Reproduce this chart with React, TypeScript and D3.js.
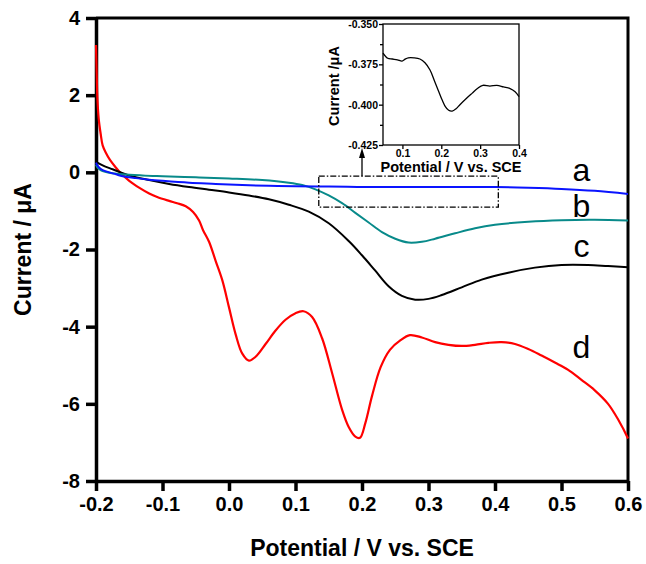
import React, { useRef, useEffect } from 'react';
import * as d3 from 'd3';

// curve a (blue)
const potA = [-0.2, -0.198, -0.195, -0.19, -0.18, -0.17, -0.16, -0.14, -0.12, -0.1, -0.06, -0.02, 0.02, 0.06, 0.1, 0.15, 0.2, 0.25, 0.3, 0.35, 0.4, 0.45, 0.5, 0.55, 0.6];
const curA = [0.25, 0.18, 0.12, 0.06, 0.0, -0.05, -0.1, -0.15, -0.19, -0.22, -0.27, -0.3, -0.33, -0.35, -0.36, -0.37, -0.38, -0.38, -0.38, -0.38, -0.38, -0.4, -0.43, -0.48, -0.56];

// curve b (teal)
const potB = [-0.2, -0.198, -0.195, -0.19, -0.18, -0.16, -0.13, -0.1, -0.05, 0.0, 0.05, 0.09, 0.11, 0.13, 0.15, 0.17, 0.19, 0.21, 0.23, 0.25, 0.27, 0.29, 0.31, 0.34, 0.37, 0.4, 0.45, 0.5, 0.55, 0.6];
const curB = [0.2, 0.13, 0.08, 0.03, -0.01, -0.05, -0.08, -0.1, -0.13, -0.16, -0.2, -0.27, -0.33, -0.44, -0.6, -0.8, -1.05, -1.3, -1.55, -1.72, -1.82, -1.8, -1.72, -1.58, -1.45, -1.36, -1.28, -1.24, -1.23, -1.25];

// curve c (black)
const potC = [-0.2, -0.19, -0.175, -0.15, -0.12, -0.09, -0.06, -0.03, 0.0, 0.03, 0.06, 0.09, 0.12, 0.15, 0.18, 0.2, 0.22, 0.24, 0.26, 0.28, 0.3, 0.32, 0.35, 0.38, 0.42, 0.46, 0.5, 0.54, 0.57, 0.6];
const curC = [0.27, 0.18, 0.08, -0.08, -0.2, -0.3, -0.38, -0.45, -0.52, -0.6, -0.7, -0.84, -1.02, -1.32, -1.78, -2.15, -2.55, -2.95, -3.2, -3.3, -3.28, -3.18, -2.98, -2.78, -2.6, -2.47, -2.4, -2.4, -2.43, -2.46];

// curve d (red)
const potD = [-0.2, -0.199, -0.198, -0.196, -0.193, -0.19, -0.185, -0.179, -0.17, -0.164, -0.15, -0.134, -0.12, -0.108, -0.09, -0.078, -0.065, -0.054, -0.045, -0.039, -0.03, -0.02, -0.01, 0.0, 0.01, 0.02, 0.03, 0.04, 0.055, 0.07, 0.085, 0.1, 0.112, 0.125, 0.14, 0.155, 0.17, 0.18, 0.19, 0.197, 0.205, 0.215, 0.228, 0.242, 0.258, 0.272, 0.29, 0.31, 0.33, 0.35, 0.37, 0.39, 0.41, 0.43, 0.45, 0.47, 0.49, 0.51, 0.53, 0.55, 0.57, 0.585, 0.6];
const curD = [3.3, 2.6, 1.95, 1.4, 1.0, 0.7, 0.5, 0.32, 0.12, 0.0, -0.22, -0.41, -0.55, -0.64, -0.74, -0.8, -0.88, -1.03, -1.25, -1.5, -1.8, -2.3, -2.8, -3.5, -4.2, -4.7, -4.88, -4.78, -4.45, -4.1, -3.82, -3.65, -3.6, -3.75, -4.3, -5.2, -6.15, -6.6, -6.85, -6.88, -6.5, -5.8, -5.05, -4.6, -4.35, -4.22, -4.28, -4.4, -4.47, -4.5, -4.47, -4.42, -4.4, -4.45, -4.58, -4.75, -4.93, -5.12, -5.38, -5.65, -6.0, -6.4, -6.9];

// inset (zoom of curve a)
const potInset = [0.05, 0.062, 0.074, 0.087, 0.099, 0.107, 0.115, 0.13, 0.145, 0.158, 0.171, 0.182, 0.192, 0.202, 0.21, 0.219, 0.228, 0.238, 0.248, 0.263, 0.279, 0.293, 0.307, 0.325, 0.343, 0.36, 0.377, 0.39, 0.4];
const curInset = [-0.368, -0.3712, -0.3717, -0.3722, -0.373, -0.3718, -0.371, -0.371, -0.3717, -0.374, -0.3785, -0.385, -0.391, -0.397, -0.401, -0.4035, -0.404, -0.4025, -0.4, -0.3965, -0.393, -0.39, -0.388, -0.3885, -0.388, -0.389, -0.39, -0.392, -0.395];

const xTicks = [-0.2, -0.1, 0.0, 0.1, 0.2, 0.3, 0.4, 0.5, 0.6];
const yTicks = [4, 2, 0, -2, -4, -6, -8];
const insetXTicks = [0.1, 0.2, 0.3, 0.4];
const insetYTicks = [-0.35, -0.375, -0.4, -0.425];
const insetYMinor = [-0.3625, -0.3875, -0.4125];

const curveLabels = ['a', 'b', 'c', 'd'];
const labelCurrents = [-0.22, -1.17, -2.2, -4.8];

const zoomBoxX = [0.135, 0.405];
const zoomBoxY = [-0.1, -0.9];

const FONT = "'Liberation Sans', Arial, Helvetica, sans-serif";

// plain hyphen for negatives, like the original figure
const fmt = (digits: number) => (d: d3.NumberValue) => (+d).toFixed(digits);

const App = () => {
    const svgRef = useRef<SVGSVGElement>(null);

    useEffect(() => {
        const width = 646;
        const height = 564;
        const marginTop = 18;
        const marginRight = 18;
        const marginBottom = 83;
        const marginLeft = 96;

        const svg = d3.select(svgRef.current)
            .attr('width', width)
            .attr('height', height)
            .attr('viewBox', `0 0 ${width} ${height}`)
            .style('font-family', FONT);

        svg.selectAll('*').remove();

        const x = d3.scaleLinear().domain([-0.2, 0.6]).range([marginLeft, width - marginRight]);
        const y = d3.scaleLinear().domain([-8, 4]).range([height - marginBottom, marginTop]);

        // frame top and right
        svg.append('path')
            .attr('d', `M${x(-0.2)},${y(4)}H${x(0.6)}V${y(-8)}`)
            .attr('fill', 'none')
            .attr('stroke', 'black')
            .attr('stroke-width', 3);

        const styleTicks = (g, size) => g.selectAll('.tick text')
            .attr('font-size', size)
            .attr('font-weight', 'bold')
            .attr('font-family', FONT)
            .attr('fill', 'black');

        // x axis
        svg.append('g')
            .attr('transform', `translate(0,${y(-8)})`)
            .call(d3.axisBottom(x).tickValues(xTicks).tickFormat(fmt(1)).tickSize(10).tickSizeOuter(0).tickPadding(6))
            .call(g => g.select('.domain').attr('stroke-width', 3.5))
            .call(g => g.selectAll('.tick line').attr('stroke-width', 3.5))
            .call(g => styleTicks(g, 20));

        // y axis
        svg.append('g')
            .attr('transform', `translate(${marginLeft},0)`)
            .call(d3.axisLeft(y).tickValues(yTicks).tickFormat(fmt(0)).tickSize(10).tickSizeOuter(0).tickPadding(6))
            .call(g => g.select('.domain').attr('stroke-width', 3.5))
            .call(g => g.selectAll('.tick line').attr('stroke-width', 3.5))
            .call(g => styleTicks(g, 20));

        // axis titles
        svg.append('text')
            .attr('x', (x(-0.2) + x(0.6)) / 2)
            .attr('y', 556)
            .attr('text-anchor', 'middle')
            .attr('font-size', 23)
            .attr('font-weight', 'bold')
            .text('Potential / V vs. SCE');

        svg.append('text')
            .attr('transform', `translate(31,${(y(4) + y(-8)) / 2}) rotate(-90)`)
            .attr('text-anchor', 'middle')
            .attr('font-size', 23)
            .attr('font-weight', 'bold')
            .text('Current / \u03BCA');

        const line = d3.line<[number, number]>()
            .x(d => x(d[0]))
            .y(d => y(d[1]))
            .curve(d3.curveCatmullRom.alpha(0.5));

        const series = [
            { pot: potD, cur: curD, color: '#ff0000', w: 2.2 },
            { pot: potC, cur: curC, color: '#000000', w: 2 },
            { pot: potB, cur: curB, color: '#088a8a', w: 2 },
            { pot: potA, cur: curA, color: '#0a14ff', w: 2 },
        ];

        series.forEach(s => {
            svg.append('path')
                .datum(s.pot.map((p, i) => [p, s.cur[i]] as [number, number]))
                .attr('fill', 'none')
                .attr('stroke', s.color)
                .attr('stroke-width', s.w)
                .attr('stroke-linejoin', 'round')
                .attr('d', line);
        });

        // curve letters
        svg.selectAll('text.curve-label')
            .data(curveLabels)
            .join('text')
            .attr('class', 'curve-label')
            .attr('x', x(0.53))
            .attr('y', (d, i) => y(labelCurrents[i]))
            .attr('text-anchor', 'middle')
            .attr('font-size', 32)
            .text(d => d);

        // zoom box
        svg.append('rect')
            .attr('x', x(zoomBoxX[0]))
            .attr('y', y(zoomBoxY[0]))
            .attr('width', x(zoomBoxX[1]) - x(zoomBoxX[0]))
            .attr('height', y(zoomBoxY[1]) - y(zoomBoxY[0]))
            .attr('fill', 'none')
            .attr('stroke', 'black')
            .attr('stroke-width', 1.3)
            .attr('stroke-dasharray', '6,2,1.5,2');

        // arrow to inset
        const ax = x(0.2);
        svg.append('line')
            .attr('x1', ax).attr('x2', ax)
            .attr('y1', y(zoomBoxY[0]))
            .attr('y2', 156)
            .attr('stroke', 'black')
            .attr('stroke-width', 1.3);
        svg.append('path')
            .attr('d', `M${ax},148L${ax - 3},158L${ax + 3},158Z`)
            .attr('fill', 'black');

        // inset
        const ix = d3.scaleLinear().domain([0.05, 0.4]).range([383, 519]);
        const iy = d3.scaleLinear().domain([-0.425, -0.35]).range([145, 24]);

        const inset = svg.append('g');
        inset.append('rect')
            .attr('x', 383).attr('y', 24)
            .attr('width', 136).attr('height', 121)
            .attr('fill', 'white')
            .attr('stroke', 'black')
            .attr('stroke-width', 1.3);

        inset.append('g')
            .attr('transform', 'translate(0,145)')
            .call(d3.axisBottom(ix).tickValues(insetXTicks).tickFormat(fmt(1)).tickSize(4).tickSizeOuter(0).tickPadding(1))
            .call(g => g.select('.domain').remove())
            .call(g => g.selectAll('.tick line').attr('stroke-width', 1.3))
            .call(g => styleTicks(g, 10.5));

        inset.append('g')
            .attr('transform', 'translate(383,0)')
            .call(d3.axisLeft(iy).tickValues(insetYTicks).tickFormat(fmt(3)).tickSize(4).tickSizeOuter(0).tickPadding(1))
            .call(g => g.select('.domain').remove())
            .call(g => g.selectAll('.tick line').attr('stroke-width', 1.3))
            .call(g => styleTicks(g, 10.5));

        inset.append('g')
            .attr('transform', 'translate(383,0)')
            .call(d3.axisLeft(iy).tickValues(insetYMinor).tickFormat(() => '').tickSize(3).tickSizeOuter(0))
            .call(g => g.select('.domain').remove())
            .call(g => g.selectAll('.tick line').attr('stroke-width', 1.3));

        const insetLine = d3.line<[number, number]>()
            .x(d => ix(d[0]))
            .y(d => iy(d[1]))
            .curve(d3.curveCatmullRom.alpha(0.5));

        inset.append('path')
            .datum(potInset.map((p, i) => [p, curInset[i]] as [number, number]))
            .attr('fill', 'none')
            .attr('stroke', 'black')
            .attr('stroke-width', 1.3)
            .attr('d', insetLine);

        inset.append('text')
            .attr('x', 451)
            .attr('y', 172)
            .attr('text-anchor', 'middle')
            .attr('font-size', 14.5)
            .attr('font-weight', 'bold')
            .text('Potential / V vs. SCE');

        inset.append('text')
            .attr('transform', 'translate(339,86) rotate(-90)')
            .attr('text-anchor', 'middle')
            .attr('font-size', 14.5)
            .attr('font-weight', 'bold')
            .text('Current /\u03BCA');

    }, []);

    return (
        <svg ref={svgRef} style={{ position: 'absolute', left: 0, top: 0 }}></svg>
    );
};

export default App;
